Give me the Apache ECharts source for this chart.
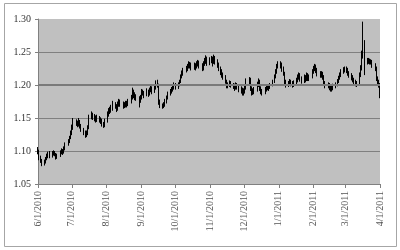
<!DOCTYPE html>
<html><head><meta charset="utf-8">
<script src="https://cdn.jsdelivr.net/npm/echarts@6/dist/echarts.min.js"></script>
<style>html,body{margin:0;padding:0;background:#fff}#c{width:400px;height:250px}</style>
</head><body><div id="c"></div>
<script>
const dates = [
'2010-06-01','2010-06-02','2010-06-03','2010-06-04','2010-06-07','2010-06-08','2010-06-09','2010-06-10','2010-06-11','2010-06-14','2010-06-15','2010-06-16','2010-06-17','2010-06-18','2010-06-21','2010-06-22','2010-06-23','2010-06-24','2010-06-25','2010-06-28','2010-06-29','2010-06-30',
'2010-07-01','2010-07-02','2010-07-05','2010-07-06','2010-07-07','2010-07-08','2010-07-09','2010-07-12','2010-07-13','2010-07-14','2010-07-15','2010-07-16','2010-07-19','2010-07-20','2010-07-21','2010-07-22','2010-07-23','2010-07-26','2010-07-27','2010-07-28','2010-07-29','2010-07-30',
'2010-08-02','2010-08-03','2010-08-04','2010-08-05','2010-08-06','2010-08-09','2010-08-10','2010-08-11','2010-08-12','2010-08-13','2010-08-16','2010-08-17','2010-08-18','2010-08-19','2010-08-20','2010-08-23','2010-08-24','2010-08-25','2010-08-26','2010-08-27','2010-08-30','2010-08-31',
'2010-09-01','2010-09-02','2010-09-03','2010-09-06','2010-09-07','2010-09-08','2010-09-09','2010-09-10','2010-09-13','2010-09-14','2010-09-15','2010-09-16','2010-09-17','2010-09-20','2010-09-21','2010-09-22','2010-09-23','2010-09-24','2010-09-27','2010-09-28','2010-09-29','2010-09-30',
'2010-10-01','2010-10-04','2010-10-05','2010-10-06','2010-10-07','2010-10-08','2010-10-11','2010-10-12','2010-10-13','2010-10-14','2010-10-15','2010-10-18','2010-10-19','2010-10-20','2010-10-21','2010-10-22','2010-10-25','2010-10-26','2010-10-27','2010-10-28','2010-10-29',
'2010-11-01','2010-11-02','2010-11-03','2010-11-04','2010-11-05','2010-11-08','2010-11-09','2010-11-10','2010-11-11','2010-11-12','2010-11-15','2010-11-16','2010-11-17','2010-11-18','2010-11-19','2010-11-22','2010-11-23','2010-11-24','2010-11-25','2010-11-26','2010-11-29','2010-11-30',
'2010-12-01','2010-12-02','2010-12-03','2010-12-06','2010-12-07','2010-12-08','2010-12-09','2010-12-10','2010-12-13','2010-12-14','2010-12-15','2010-12-16','2010-12-17','2010-12-20','2010-12-21','2010-12-22','2010-12-23','2010-12-24','2010-12-27','2010-12-28','2010-12-29','2010-12-30','2010-12-31',
'2011-01-03','2011-01-04','2011-01-05','2011-01-06','2011-01-07','2011-01-10','2011-01-11','2011-01-12','2011-01-13','2011-01-14','2011-01-17','2011-01-18','2011-01-19','2011-01-20','2011-01-21','2011-01-24','2011-01-25','2011-01-26','2011-01-27','2011-01-28','2011-01-31',
'2011-02-01','2011-02-02','2011-02-03','2011-02-04','2011-02-07','2011-02-08','2011-02-09','2011-02-10','2011-02-11','2011-02-14','2011-02-15','2011-02-16','2011-02-17','2011-02-18','2011-02-21','2011-02-22','2011-02-23','2011-02-24','2011-02-25','2011-02-28',
'2011-03-01','2011-03-02','2011-03-03','2011-03-04','2011-03-07','2011-03-08','2011-03-09','2011-03-10','2011-03-11','2011-03-14','2011-03-15','2011-03-16','2011-03-17','2011-03-18','2011-03-21','2011-03-22','2011-03-23','2011-03-24','2011-03-25','2011-03-28','2011-03-29','2011-03-30','2011-03-31',
'2011-04-01'
];
const open = [
1.104,1.100,1.090,1.085,1.080,1.083,1.088,1.092,1.095,1.092,1.097,1.098,1.095,1.090,1.093,1.097,1.100,1.098,1.103,1.110,1.115,1.120,
1.127,1.135,1.145,1.142,1.140,1.145,1.138,1.132,1.128,1.125,1.127,1.135,1.150,1.155,1.152,1.150,1.147,1.150,1.148,1.145,1.140,1.138,
1.145,1.155,1.160,1.162,1.165,1.170,1.168,1.163,1.170,1.175,1.172,1.168,1.170,1.172,1.170,1.175,1.180,1.190,1.185,1.182,1.180,1.175,
1.180,1.190,1.188,1.185,1.190,1.187,1.192,1.195,1.190,1.195,1.203,1.200,1.175,1.168,1.167,1.170,1.175,1.180,1.186,1.190,1.193,1.197,
1.200,1.198,1.200,1.205,1.212,1.218,1.222,1.225,1.228,1.232,1.230,1.227,1.230,1.228,1.232,1.235,1.230,1.225,1.232,1.237,1.240,
1.235,1.238,1.240,1.235,1.242,1.236,1.230,1.225,1.220,1.215,1.212,1.205,1.198,1.200,1.203,1.200,1.198,1.195,1.200,1.197,1.193,1.192,
1.188,1.190,1.195,1.205,1.208,1.195,1.188,1.190,1.192,1.200,1.205,1.195,1.190,1.188,1.193,1.195,1.197,1.195,1.200,1.205,1.212,1.220,1.228,
1.233,1.230,1.225,1.218,1.205,1.200,1.203,1.205,1.202,1.200,1.203,1.207,1.212,1.215,1.210,1.205,1.212,1.208,1.215,1.210,1.212,
1.220,1.225,1.228,1.222,1.218,1.215,1.217,1.212,1.203,1.198,1.200,1.196,1.193,1.195,1.198,1.200,1.205,1.210,1.215,1.220,
1.223,1.225,1.223,1.218,1.215,1.212,1.208,1.205,1.202,1.200,1.215,1.225,1.245,1.265,1.235,1.238,1.237,1.235,1.236,1.230,1.225,1.210,1.205,
1.200
];
const close = [
1.100,1.090,1.085,1.080,1.083,1.088,1.092,1.095,1.092,1.097,1.098,1.095,1.090,1.093,1.097,1.100,1.098,1.103,1.110,1.115,1.120,1.127,
1.135,1.145,1.142,1.140,1.145,1.138,1.132,1.128,1.125,1.127,1.135,1.150,1.155,1.152,1.150,1.147,1.150,1.148,1.145,1.140,1.138,1.145,
1.155,1.160,1.162,1.165,1.170,1.168,1.163,1.170,1.175,1.172,1.168,1.170,1.172,1.170,1.175,1.180,1.190,1.185,1.182,1.180,1.175,1.180,
1.190,1.188,1.185,1.190,1.187,1.192,1.195,1.190,1.195,1.203,1.200,1.175,1.168,1.167,1.170,1.175,1.180,1.186,1.190,1.193,1.197,1.200,
1.198,1.200,1.205,1.212,1.218,1.222,1.225,1.228,1.232,1.230,1.227,1.230,1.228,1.232,1.235,1.230,1.225,1.232,1.237,1.240,1.235,
1.238,1.240,1.235,1.242,1.236,1.230,1.225,1.220,1.215,1.212,1.205,1.198,1.200,1.203,1.200,1.198,1.195,1.200,1.197,1.193,1.192,1.188,
1.190,1.195,1.205,1.208,1.195,1.188,1.190,1.192,1.200,1.205,1.195,1.190,1.188,1.193,1.195,1.197,1.195,1.200,1.205,1.212,1.220,1.228,1.233,
1.230,1.225,1.218,1.205,1.200,1.203,1.205,1.202,1.200,1.203,1.207,1.212,1.215,1.210,1.205,1.212,1.208,1.215,1.210,1.212,1.220,
1.225,1.228,1.222,1.218,1.215,1.217,1.212,1.203,1.198,1.200,1.196,1.193,1.195,1.198,1.200,1.205,1.210,1.215,1.220,1.223,
1.225,1.223,1.218,1.215,1.212,1.208,1.205,1.202,1.200,1.215,1.225,1.245,1.265,1.235,1.238,1.237,1.235,1.236,1.230,1.225,1.210,1.205,1.200,
1.185
];
const low = [
1.095,1.086,1.082,1.077,1.078,1.081,1.086,1.089,1.089,1.090,1.093,1.092,1.087,1.088,1.091,1.095,1.094,1.096,1.101,1.108,1.112,1.118,
1.124,1.132,1.138,1.136,1.137,1.134,1.129,1.124,1.120,1.121,1.124,1.133,1.148,1.147,1.145,1.143,1.144,1.143,1.141,1.137,1.135,1.136,
1.143,1.152,1.156,1.158,1.161,1.164,1.159,1.161,1.167,1.167,1.164,1.165,1.166,1.166,1.168,1.172,1.178,1.180,1.177,1.176,1.166,1.173,
1.178,1.184,1.180,1.183,1.182,1.184,1.189,1.186,1.188,1.193,1.196,1.170,1.165,1.164,1.165,1.167,1.172,1.178,1.184,1.187,1.190,1.193,
1.193,1.194,1.198,1.203,1.210,1.214,1.219,1.221,1.225,1.225,1.222,1.223,1.222,1.225,1.228,1.225,1.221,1.222,1.229,1.232,1.229,
1.230,1.233,1.228,1.232,1.231,1.226,1.221,1.215,1.211,1.208,1.202,1.195,1.195,1.197,1.196,1.194,1.191,1.193,1.193,1.189,1.187,1.184,
1.184,1.187,1.193,1.201,1.191,1.184,1.185,1.186,1.190,1.197,1.191,1.186,1.184,1.186,1.190,1.192,1.191,1.194,1.198,1.203,1.210,1.217,1.225,
1.225,1.220,1.214,1.201,1.196,1.197,1.199,1.198,1.196,1.197,1.201,1.204,1.208,1.205,1.202,1.203,1.204,1.206,1.206,1.206,1.210,
1.217,1.221,1.218,1.213,1.211,1.211,1.208,1.199,1.195,1.195,1.192,1.190,1.190,1.192,1.195,1.198,1.203,1.208,1.212,1.217,
1.219,1.218,1.214,1.211,1.207,1.204,1.201,1.198,1.197,1.199,1.212,1.222,1.240,1.215,1.231,1.232,1.231,1.231,1.226,1.221,1.206,1.201,1.196,
1.180
];
const high = [
1.106,1.102,1.093,1.088,1.087,1.091,1.096,1.099,1.100,1.100,1.101,1.100,1.097,1.096,1.101,1.104,1.103,1.107,1.113,1.118,1.123,1.131,
1.140,1.150,1.148,1.146,1.150,1.147,1.141,1.135,1.131,1.131,1.139,1.155,1.160,1.158,1.156,1.154,1.155,1.153,1.151,1.149,1.144,1.149,
1.160,1.165,1.167,1.170,1.176,1.174,1.171,1.175,1.179,1.178,1.175,1.174,1.176,1.176,1.179,1.185,1.196,1.193,1.189,1.186,1.183,1.185,
1.194,1.193,1.191,1.195,1.193,1.196,1.199,1.198,1.200,1.207,1.208,1.202,1.178,1.172,1.174,1.179,1.184,1.190,1.194,1.197,1.201,1.204,
1.203,1.204,1.208,1.216,1.222,1.226,1.229,1.232,1.236,1.235,1.234,1.234,1.233,1.236,1.238,1.237,1.233,1.236,1.241,1.245,1.243,
1.242,1.244,1.243,1.246,1.244,1.239,1.234,1.228,1.224,1.219,1.215,1.208,1.204,1.207,1.206,1.203,1.202,1.204,1.203,1.200,1.198,1.196,
1.195,1.200,1.210,1.212,1.211,1.198,1.195,1.197,1.205,1.210,1.208,1.198,1.194,1.197,1.199,1.201,1.200,1.203,1.208,1.216,1.224,1.232,1.236,
1.236,1.234,1.228,1.220,1.208,1.206,1.209,1.208,1.206,1.207,1.211,1.216,1.219,1.218,1.213,1.216,1.215,1.219,1.218,1.216,1.224,
1.229,1.232,1.231,1.226,1.221,1.221,1.220,1.215,1.206,1.204,1.203,1.199,1.199,1.202,1.204,1.209,1.214,1.219,1.224,1.227,
1.228,1.228,1.226,1.221,1.218,1.215,1.211,1.208,1.206,1.219,1.230,1.252,1.296,1.268,1.241,1.241,1.240,1.239,1.238,1.233,1.228,1.213,1.208,
1.203
];
const tickDates = ['2010-06-01','2010-07-01','2010-08-01','2010-09-01','2010-10-01','2010-11-01','2010-12-01','2011-01-01','2011-02-01','2011-03-01','2011-04-01'];
const yMin = 1.05, yMax = 1.30, yStep = 0.05;
const refLine = 1.20;

const ts = s => { const p = s.split('-').map(Number); return Date.UTC(p[0], p[1] - 1, p[2]); };
const rows = dates.map((d, i) => [ts(d), open[i], close[i], low[i], high[i]]);
const tickVals = tickDates.map(ts);
const fmtDate = v => { const d = new Date(v); return (d.getUTCMonth() + 1) + '/' + d.getUTCDate() + '/' + d.getUTCFullYear(); };

const chart = echarts.init(document.getElementById('c'), null, {renderer: 'canvas'});
chart.setOption({
  animation: false,
  backgroundColor: '#ffffff',
  graphic: [{
    type: 'rect', shape: {x: 4.5, y: 3.5, width: 392, height: 243},
    style: {fill: 'none', stroke: '#a6a6a6', lineWidth: 1}, silent: true, z: 100
  }],
  grid: {left: 38, right: 20, top: 19, bottom: 66, show: true, backgroundColor: '#c0c0c0', borderWidth: 0},
  xAxis: {
    type: 'value', min: tickVals[0], max: tickVals[tickVals.length - 1], scale: true,
    axisLine: {show: true, onZero: false, lineStyle: {color: '#808080', width: 1}},
    axisTick: {show: true, length: 4, customValues: tickVals, lineStyle: {color: '#808080'}},
    axisLabel: {
      customValues: tickVals, rotate: 90, margin: 7,
      fontFamily: 'Liberation Serif', fontSize: 10, color: '#555',
      formatter: fmtDate
    },
    splitLine: {show: false}
  },
  yAxis: {
    type: 'value', min: yMin, max: yMax, interval: yStep,
    axisLine: {show: true, lineStyle: {color: '#808080', width: 1}},
    axisTick: {show: true, length: 3, lineStyle: {color: '#808080'}},
    axisLabel: {margin: 7, fontFamily: 'Liberation Serif', fontSize: 10, color: '#333', formatter: v => v.toFixed(2)},
    splitLine: {show: true, showMaxLine: false, lineStyle: {color: '#808080', width: 1}}
  },
  series: [{
    type: 'candlestick',
    data: rows,
    encode: {x: 0, y: [1, 2, 3, 4]},
    barWidth: 1,
    barMinWidth: 1,
    itemStyle: {color: '#ffffff', color0: '#000000', borderColor: '#000000', borderColor0: '#000000', borderWidth: 1},
    markLine: {
      silent: true, symbol: 'none', label: {show: false},
      lineStyle: {color: '#7a7a7a', width: 2, type: 'solid'},
      data: [{yAxis: refLine}]
    }
  }]
});
</script>
</body></html>
